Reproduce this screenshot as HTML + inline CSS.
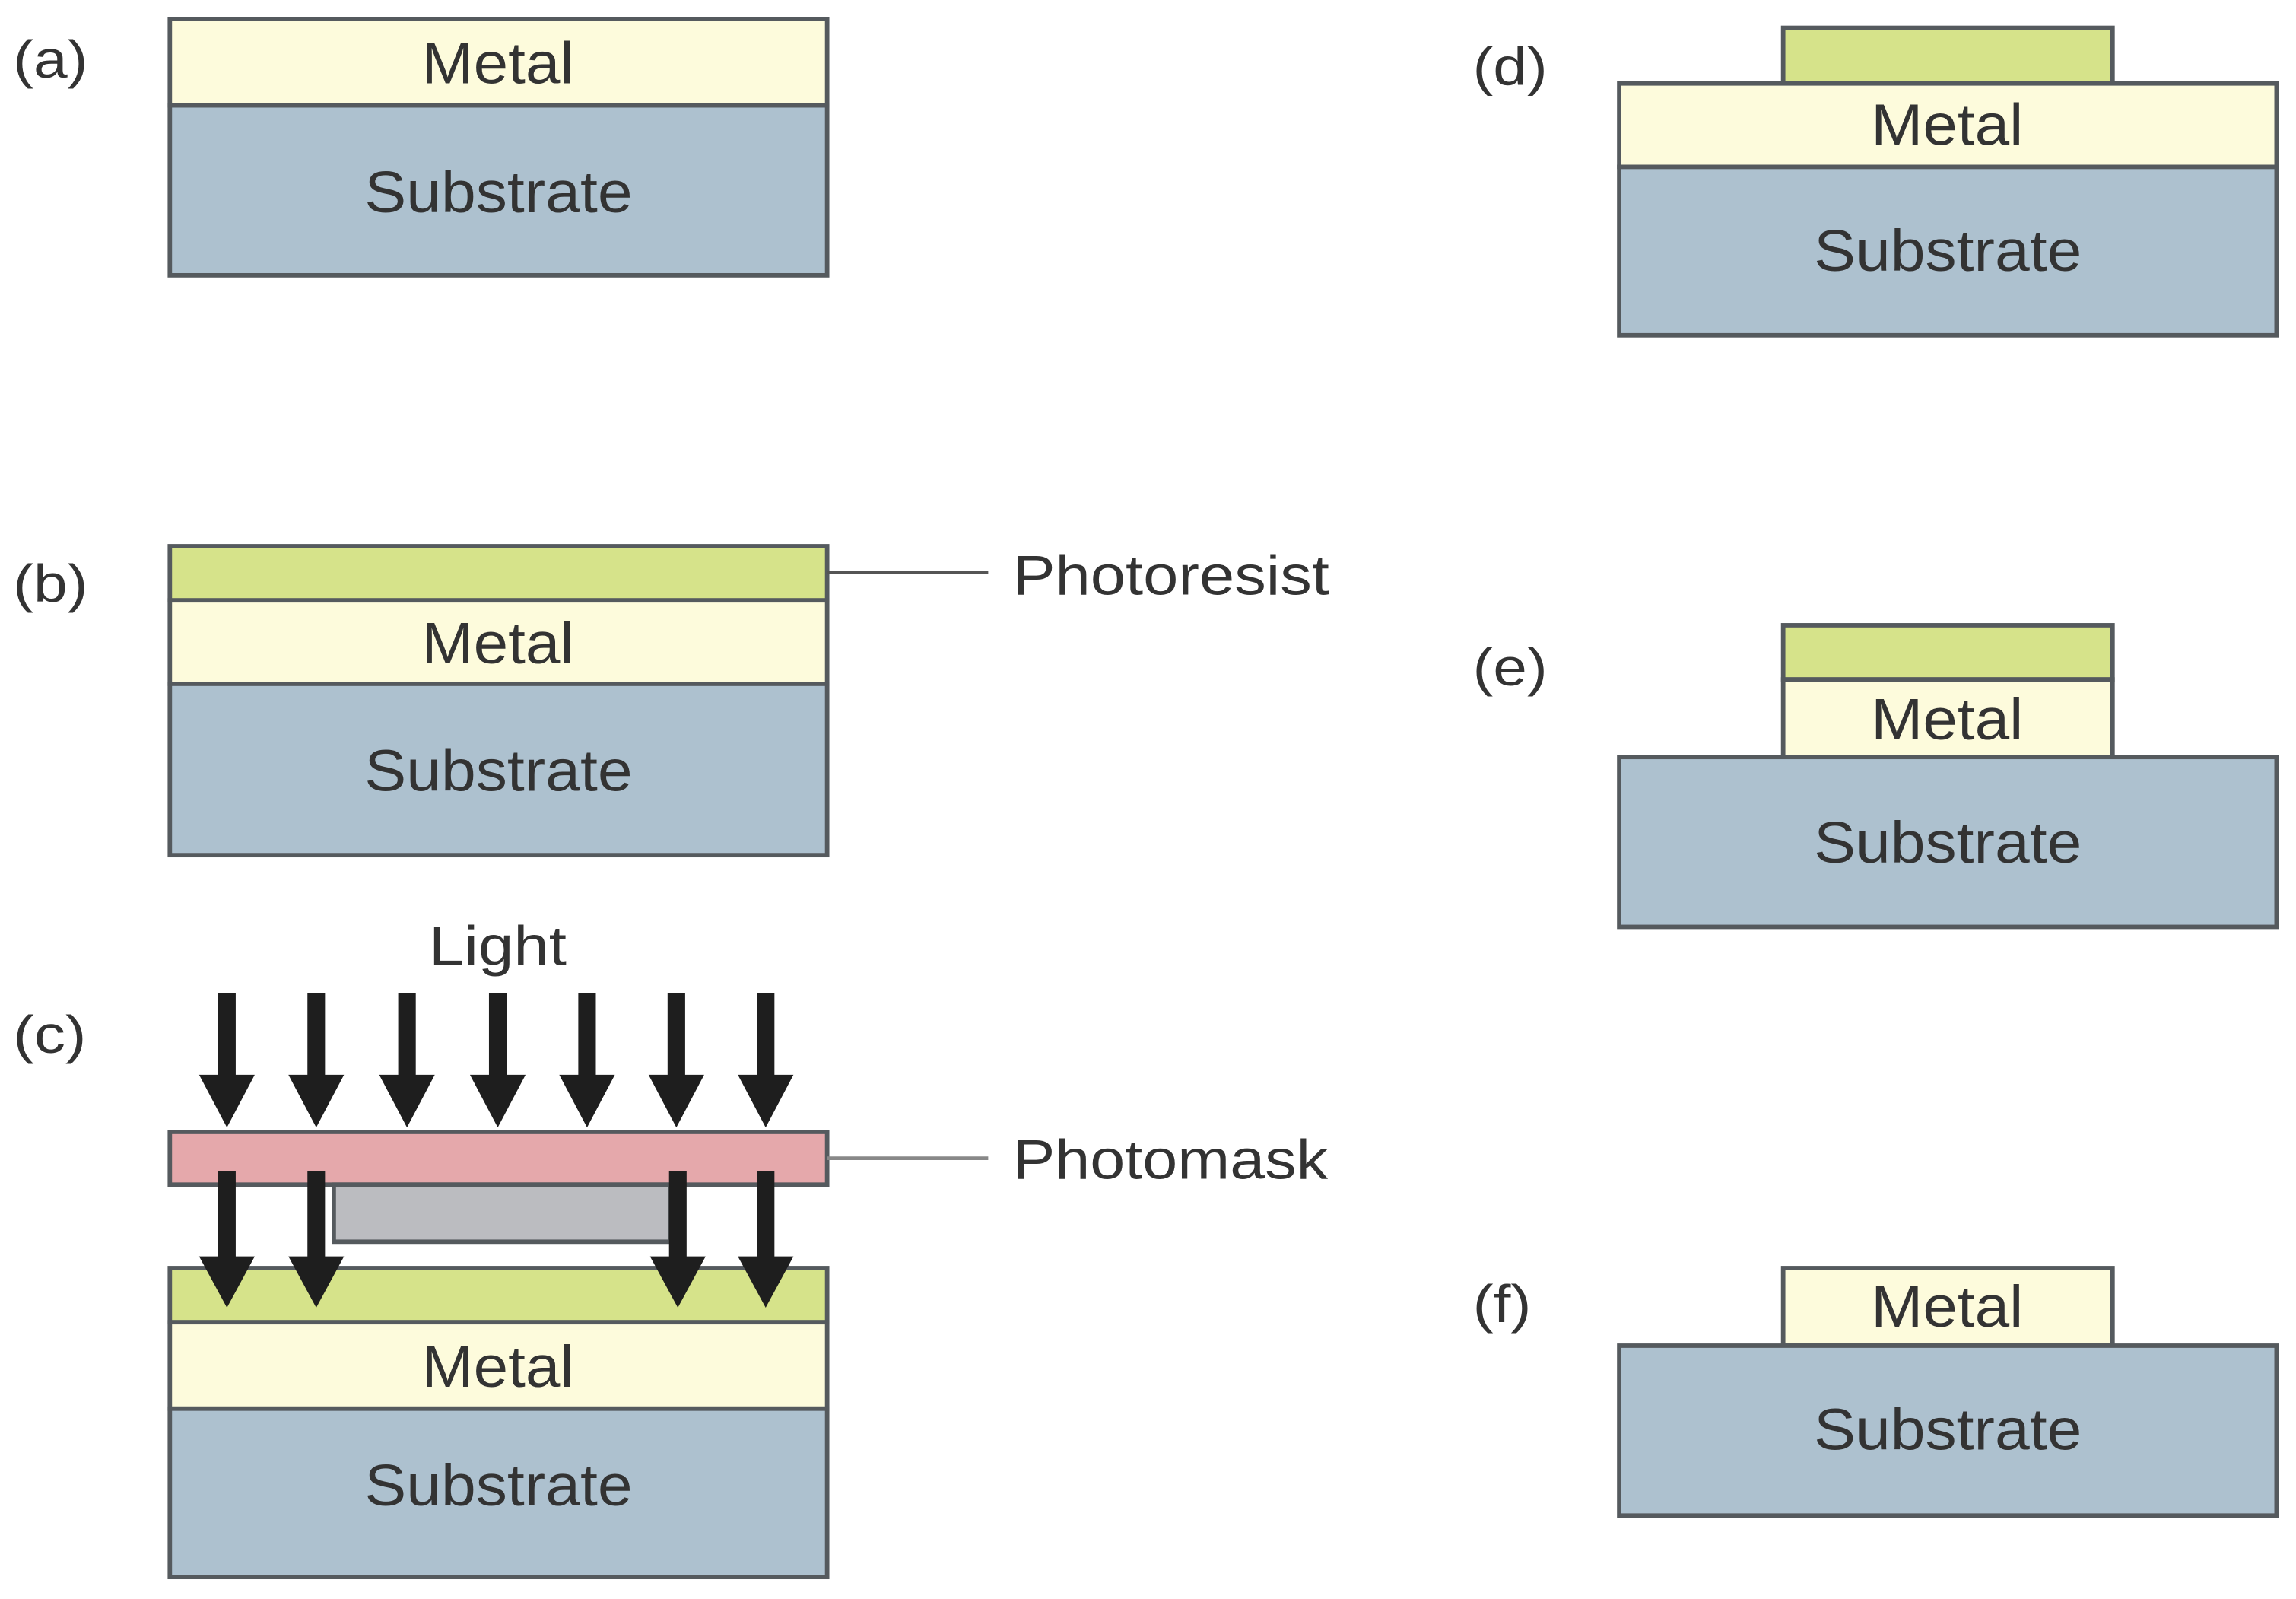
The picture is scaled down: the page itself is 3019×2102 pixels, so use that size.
<!DOCTYPE html>
<html><head><meta charset="utf-8"><style>html,body{margin:0;padding:0;background:#fff}svg{display:block}</style></head>
<body>
<svg width="3019" height="2102" viewBox="0 0 1568.3 1092" preserveAspectRatio="none" xmlns="http://www.w3.org/2000/svg" font-family="Liberation Sans, sans-serif">
<defs>
<g id="arr"><rect x="-6" y="0" width="12" height="60" fill="#1e1e1e"/><polygon points="-19,56 19,56 0,92" fill="#1e1e1e"/></g>
<g id="arr2"><rect x="-6" y="0" width="12" height="60" fill="#1e1e1e"/><polygon points="-19,58 19,58 0,93" fill="#1e1e1e"/></g>
</defs>
<g stroke="#555a5e" stroke-width="3">
<rect x="116" y="13" width="449" height="59" fill="#fdfbdc"/>
<rect x="116" y="72" width="449" height="116" fill="#adc1cf"/>
<rect x="116" y="373" width="449" height="37" fill="#d6e38a"/>
<rect x="116" y="410" width="449" height="57" fill="#fdfbdc"/>
<rect x="116" y="467" width="449" height="117" fill="#adc1cf"/>
<rect x="116" y="773" width="449" height="36" fill="#e5a8ab"/>
<rect x="228" y="809" width="230" height="39" fill="#bbbcc0"/>
<rect x="116" y="866" width="449" height="37" fill="#d6e38a"/>
<rect x="116" y="903" width="449" height="59" fill="#fdfbdc"/>
<rect x="116" y="962" width="449" height="115" fill="#adc1cf"/>
<rect x="1218" y="19" width="225" height="38" fill="#d6e38a"/>
<rect x="1106" y="57" width="449" height="57" fill="#fdfbdc"/>
<rect x="1106" y="114" width="449" height="115" fill="#adc1cf"/>
<rect x="1218" y="427" width="225" height="37" fill="#d6e38a"/>
<rect x="1218" y="464" width="225" height="53" fill="#fdfbdc"/>
<rect x="1106" y="517" width="449" height="116" fill="#adc1cf"/>
<rect x="1218" y="866" width="225" height="53" fill="#fdfbdc"/>
<rect x="1106" y="919" width="449" height="116" fill="#adc1cf"/>
</g>
<line x1="565" y1="391" x2="675" y2="391" stroke="#555" stroke-width="2.5"/>
<line x1="565" y1="791" x2="675" y2="791" stroke="#888" stroke-width="2.5"/>
<use href="#arr" x="155" y="678"/><use href="#arr" x="216" y="678"/><use href="#arr" x="278" y="678"/><use href="#arr" x="340" y="678"/><use href="#arr" x="401" y="678"/><use href="#arr" x="462" y="678"/><use href="#arr" x="523" y="678"/>
<use href="#arr2" x="155" y="800"/><use href="#arr2" x="216" y="800"/><use href="#arr2" x="463" y="800"/><use href="#arr2" x="523" y="800"/>
<g fill="#333" font-size="40">
<text x="288" y="57" textLength="104" lengthAdjust="spacingAndGlyphs">Metal</text>
<text x="249" y="145" textLength="183" lengthAdjust="spacingAndGlyphs">Substrate</text>
<text x="288" y="453" textLength="104" lengthAdjust="spacingAndGlyphs">Metal</text>
<text x="249" y="540" textLength="183" lengthAdjust="spacingAndGlyphs">Substrate</text>
<text x="288" y="947" textLength="104" lengthAdjust="spacingAndGlyphs">Metal</text>
<text x="249" y="1028" textLength="183" lengthAdjust="spacingAndGlyphs">Substrate</text>
<text x="1278" y="99" textLength="104" lengthAdjust="spacingAndGlyphs">Metal</text>
<text x="1239" y="185" textLength="183" lengthAdjust="spacingAndGlyphs">Substrate</text>
<text x="1278" y="505" textLength="104" lengthAdjust="spacingAndGlyphs">Metal</text>
<text x="1239" y="589" textLength="183" lengthAdjust="spacingAndGlyphs">Substrate</text>
<text x="1278" y="906" textLength="104" lengthAdjust="spacingAndGlyphs">Metal</text>
<text x="1239" y="990" textLength="183" lengthAdjust="spacingAndGlyphs">Substrate</text>
<text x="293" y="659" font-size="38" textLength="94" lengthAdjust="spacingAndGlyphs">Light</text>
<text x="692" y="406" font-size="38" textLength="216" lengthAdjust="spacingAndGlyphs">Photoresist</text>
<text x="692" y="805" font-size="38" textLength="215" lengthAdjust="spacingAndGlyphs">Photomask</text>
</g>
<g fill="#333" font-size="36">
<text x="9" y="53" textLength="51" lengthAdjust="spacingAndGlyphs">(a)</text>
<text x="9" y="411" textLength="51" lengthAdjust="spacingAndGlyphs">(b)</text>
<text x="9" y="719" textLength="50" lengthAdjust="spacingAndGlyphs">(c)</text>
<text x="1006" y="58" textLength="51" lengthAdjust="spacingAndGlyphs">(d)</text>
<text x="1006" y="468" textLength="51" lengthAdjust="spacingAndGlyphs">(e)</text>
<text x="1006" y="903" textLength="40" lengthAdjust="spacingAndGlyphs">(f)</text>
</g>
</svg>
</body></html>
